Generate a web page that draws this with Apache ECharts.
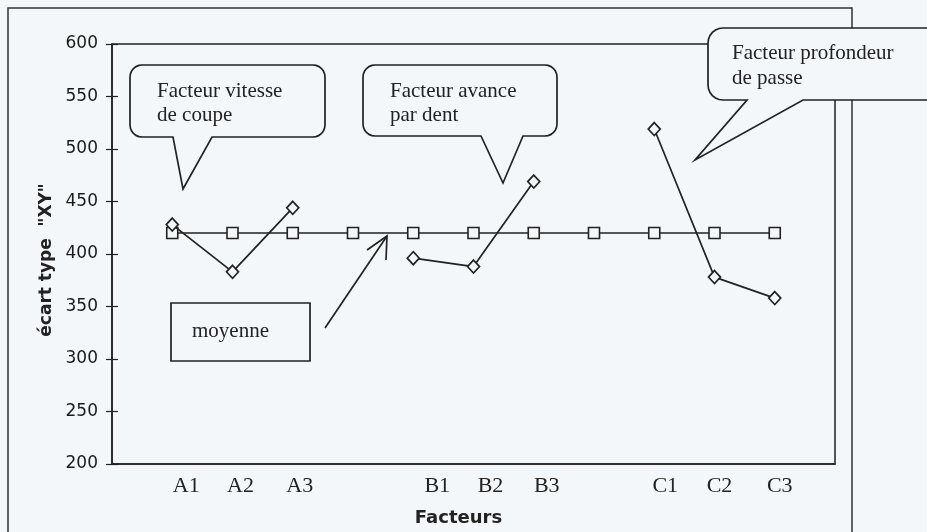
<!DOCTYPE html>
<html>
<head>
<meta charset="utf-8">
<script src="https://cdn.jsdelivr.net/npm/echarts@6/dist/echarts.min.js"></script>
<style>
  html, body { margin: 0; padding: 0; background: #f3f7fa; }
  #chart { width: 927px; height: 532px; }
</style>
</head>
<body>
<div id="chart"></div>
<script>
// data
const categories = ['', 'A1', 'A2', 'A3', '', 'B1', 'B2', 'B3', '', 'C1', 'C2', 'C3', ''];
const moyenne = [null, 420, 420, 420, 420, 420, 420, 420, 420, 420, 420, 420, null];
const ecartType = [null, 428, 383, 444, null, 396, 388, 469, null, 519, 378, 358, null];
const yTicks = { min: 200, max: 600, step: 50 };

// the typed labels sit a bit right of their points
const labelShift = [0, 14, 8, 7, 0, 24, 17, 13, 0, 11, 5, 5, 0];

const ink = '#222';
const bg = '#f3f7fa';
const serif = '"Liberation Serif", "Times New Roman", serif';
const sans = '"DejaVu Sans", sans-serif';

const chart = echarts.init(document.getElementById('chart'));

const rich = {};
labelShift.forEach(function(s, i) {
  rich['p' + i] = {
    fontFamily: serif, fontSize: 22, color: ink,
    padding: [0, 0, 0, 2 * s]
  };
});

// quarter arc points, centre (cx, cy), from angle a0 to a1 (degrees)
function arc(cx, cy, r, a0, a1) {
  const pts = [];
  for (let k = 0; k <= 6; k++) {
    const a = (a0 + (a1 - a0) * k / 6) * Math.PI / 180;
    pts.push([cx + r * Math.cos(a), cy + r * Math.sin(a)]);
  }
  return pts;
}

// speech bubble outline: rounded box with a pointer hanging from its bottom edge
function bubble(x, y, w, h, r, b1, b2, tx, ty) {
  const x2 = x + w, y2 = y + h;
  return [].concat(
    arc(x + r, y + r, r, 180, 270),
    arc(x2 - r, y + r, r, 270, 360),
    arc(x2 - r, y2 - r, r, 0, 90),
    [[b2, y2], [tx, ty], [b1, y2]],
    arc(x + r, y2 - r, r, 90, 180)
  );
}

function bubbleShape(points) {
  return {
    type: 'polygon', z: 100,
    shape: { points: points },
    style: { fill: bg, stroke: ink, lineWidth: 1.7 }
  };
}

function label(x, y, text, lh) {
  return {
    type: 'text', z: 101, x: x, y: y,
    style: {
      text: text, fontFamily: serif, fontSize: 21, fill: ink,
      lineHeight: lh, verticalAlign: 'top'
    }
  };
}

const option = {
  animation: false,
  backgroundColor: bg,
  grid: {
    left: 112, top: 44, right: 92, bottom: 68,
    outerBoundsMode: 'none',
    containLabel: false,
    show: true, borderColor: ink, borderWidth: 1.5, backgroundColor: 'transparent'
  },
  xAxis: {
    type: 'category',
    data: categories,
    boundaryGap: false,
    name: 'Facteurs',
    nameLocation: 'middle',
    nameGap: 45,
    nameTextStyle: {
      fontFamily: sans, fontWeight: 'bold', fontSize: 18,
      color: ink, padding: [0, 30, 0, 0]
    },
    axisLine: { lineStyle: { color: ink, width: 1.6 } },
    axisTick: { show: false },
    splitLine: { show: false },
    axisLabel: {
      interval: 0,
      margin: 11,
      formatter: function(value, index) {
        return value ? '{p' + index + '|' + value + '}' : '';
      },
      rich: rich
    }
  },
  yAxis: [
    {
      type: 'value',
      min: yTicks.min, max: yTicks.max, interval: yTicks.step,
      name: 'écart type  "XY"',
      nameLocation: 'middle',
      nameGap: 56,
      nameRotate: 90,
      nameTextStyle: {
        fontFamily: sans, fontWeight: 'bold', fontSize: 17,
        color: ink, padding: [0, 12, 0, 0]
      },
      axisLine: { show: true, lineStyle: { color: ink, width: 1.6 } },
      axisTick: { show: true, length: 6, lineStyle: { color: ink, width: 1.2 } },
      splitLine: { show: false },
      axisLabel: {
        margin: 14,
        fontFamily: sans, fontSize: 17, color: '#1a1a1a'
      }
    },
    {
      // inner half of the crossing ticks
      type: 'value',
      position: 'left',
      min: yTicks.min, max: yTicks.max, interval: yTicks.step,
      axisLine: { show: false },
      axisTick: { show: true, inside: true, length: 6, lineStyle: { color: ink, width: 1.2 } },
      axisLabel: { show: false },
      splitLine: { show: false }
    }
  ],
  series: [
    {
      name: 'moyenne',
      type: 'line',
      data: moyenne,
      symbol: 'rect',
      symbolSize: 11,
      showAllSymbol: true,
      lineStyle: { color: ink, width: 1.5 },
      itemStyle: { color: bg, borderColor: ink, borderWidth: 1.6 },
      z: 3
    },
    {
      name: 'écart type',
      type: 'line',
      data: ecartType,
      connectNulls: false,
      symbol: 'diamond',
      symbolSize: [12, 13],
      showAllSymbol: true,
      lineStyle: { color: ink, width: 1.7 },
      itemStyle: { color: bg, borderColor: ink, borderWidth: 1.7 },
      z: 4
    }
  ],
  graphic: [
    {
      type: 'rect', z: 0, silent: true,
      shape: { x: 8, y: 8, width: 844, height: 560 },
      style: { fill: 'none', stroke: '#333', lineWidth: 1.5 }
    },
    bubbleShape(bubble(130, 65, 195, 72, 12, 173, 212, 183, 189)),
    label(157, 79, 'Facteur vitesse\nde coupe', 24),
    bubbleShape(bubble(363, 65, 194, 71, 12, 481, 523, 503, 183)),
    label(390, 79, 'Facteur avance\npar dent', 24),
    bubbleShape(bubble(708, 28, 240, 72, 15, 747, 803, 695, 160)),
    label(732, 41, 'Facteur profondeur\nde passe', 25),
    {
      type: 'rect', z: 100,
      shape: { x: 171, y: 303, width: 139, height: 58 },
      style: { fill: bg, stroke: ink, lineWidth: 1.7 }
    },
    {
      type: 'text', z: 101, x: 192, y: 331,
      style: {
        text: 'moyenne', fontFamily: serif, fontSize: 21, fill: ink,
        verticalAlign: 'middle'
      }
    },
    {
      type: 'polyline', z: 100,
      shape: { points: [[325, 328], [387, 236]] },
      style: { stroke: ink, lineWidth: 1.7 }
    },
    {
      type: 'polyline', z: 100,
      shape: { points: [[367, 250], [387, 236], [386, 260]] },
      style: { stroke: ink, lineWidth: 1.7, fill: 'none' }
    }
  ]
};

chart.setOption(option);
</script>
</body>
</html>
